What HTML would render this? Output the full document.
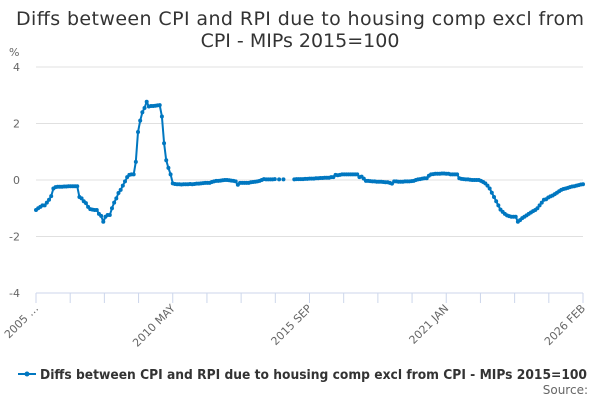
<!DOCTYPE html>
<html><head><meta charset="utf-8"><style>
html,body{margin:0;padding:0;background:#fff;}
svg{display:block;font-family:"DejaVu Sans","Liberation Sans",sans-serif;}
</style></head><body>
<svg id="chart" width="600" height="400">
<text x="300" y="25" text-anchor="middle" font-size="19" textLength="568" fill="#333">Diffs between CPI and RPI due to housing comp excl from</text>
<text x="300" y="47" text-anchor="middle" font-size="19" fill="#333">CPI - MIPs 2015=100</text>
<text x="9" y="56" font-size="11" fill="#666">%</text>
<g id="grid"></g><g id="xaxis"></g><g id="series"></g>
<g>
<line x1="18" y1="374" x2="36" y2="374" stroke="#0077c0" stroke-width="2"/>
<circle cx="27" cy="374" r="2.5" fill="#0077c0"/>
<text x="40" y="379" font-size="13" font-weight="bold" textLength="547" lengthAdjust="spacingAndGlyphs" fill="#333">Diffs between CPI and RPI due to housing comp excl from CPI - MIPs 2015=100</text>
</g>
<text x="588" y="394" text-anchor="end" font-size="12" fill="#666">Source:</text>
</svg>
<script>
const yTicks=[4,2,0,-2,-4];
const xLabels=["2005 …","2010 MAY","2015 SEP","2021 JAN","2026 FEB"];
const values=[
-1.06,-1.0,-0.95,-0.9,-0.9,-0.8,-0.7,-0.57,-0.3,-0.25,-0.24,-0.24,
-0.24,-0.23,-0.23,-0.22,-0.22,-0.22,-0.22,-0.22,-0.6,-0.65,-0.75,-0.82,
-0.95,-1.03,-1.05,-1.06,-1.06,-1.2,-1.27,-1.48,-1.3,-1.24,-1.24,-1.0,
-0.8,-0.65,-0.46,-0.35,-0.2,-0.05,0.1,0.18,0.2,0.2,0.64,1.7,
2.1,2.4,2.55,2.77,2.6,2.62,2.62,2.63,2.64,2.65,2.25,1.3,
0.7,0.43,0.2,-0.12,-0.14,-0.15,-0.15,-0.16,-0.15,-0.15,-0.15,-0.14,
-0.15,-0.14,-0.13,-0.13,-0.12,-0.11,-0.1,-0.1,-0.1,-0.07,-0.05,-0.03,
-0.03,-0.02,-0.01,0,0,-0.01,-0.02,-0.03,-0.05,-0.17,-0.1,-0.1,
-0.1,-0.1,-0.1,-0.08,-0.07,-0.06,-0.05,-0.03,0.0,0.03,0.02,0.02,
0.02,0.02,0.03,null,0.02,null,0.02,null,null,null,null,0.02,
0.03,0.03,0.03,0.03,0.04,0.04,0.05,0.05,0.05,0.06,0.06,0.07,
0.07,0.08,0.08,0.08,0.1,0.1,0.18,0.17,0.18,0.2,0.2,0.2,
0.2,0.2,0.2,0.2,0.2,0.1,0.12,0.05,-0.03,-0.03,-0.04,-0.05,
-0.05,-0.06,-0.06,-0.06,-0.07,-0.08,-0.08,-0.1,-0.13,-0.05,-0.05,-0.06,
-0.06,-0.06,-0.05,-0.05,-0.05,-0.04,-0.03,0,0.02,0.03,0.05,0.06,
0.06,0.15,0.2,0.21,0.22,0.22,0.22,0.23,0.23,0.22,0.22,0.2,
0.2,0.2,0.2,0.06,0.04,0.03,0.02,0.02,0.01,0.0,0.0,0.0,
0,-0.03,-0.07,-0.12,-0.2,-0.3,-0.45,-0.6,-0.75,-0.9,-1.05,-1.13,
-1.2,-1.25,-1.28,-1.3,-1.3,-1.3,-1.48,-1.42,-1.35,-1.3,-1.25,-1.2,
-1.15,-1.1,-1.06,-1.0,-0.9,-0.8,-0.7,-0.68,-0.62,-0.58,-0.55,-0.5,
-0.45,-0.4,-0.35,-0.32,-0.3,-0.28,-0.25,-0.23,-0.22,-0.2,-0.18,-0.16,
-0.15];
const NS="http://www.w3.org/2000/svg";
const X0=36,X1=583,Y0=293,Y1=67;
const xs=i=>X0+(X1-X0)*i/(values.length-1);
const ys=v=>Y0-(v+4)/8*(Y0-Y1);
function mk(t,a,p){const e=document.createElementNS(NS,t);for(const k in a)e.setAttribute(k,a[k]);p.appendChild(e);return e;}
const grid=document.getElementById('grid');
yTicks.forEach(t=>{
 if(t!==-4){const l=mk('line',{x1:X0,x2:X1,y1:ys(t),y2:ys(t),stroke:'#e0e0e0','stroke-width':1},grid);
 
 }
 const tx=mk('text',{x:20,y:ys(t)+4,'text-anchor':'end','font-size':11,fill:'#666'},grid);
 tx.textContent=t;
 
 
});
const xa=document.getElementById('xaxis');
const ax=mk('line',{x1:X0,x2:X1,y1:Y0,y2:Y0,stroke:'#ccd6eb','stroke-width':1},xa);


for(let k=0;k<=16;k++){
 const x=X0+(X1-X0)*k/16;
 const tk=mk('line',{x1:x,x2:x,y1:Y0,y2:Y0+10,stroke:'#ccd6eb'},xa);
 
 
 if(k%4===0){
  const lb=mk('text',{x:x+3,y:Y0+16,'text-anchor':'end','font-size':11,fill:'#666',transform:`rotate(-45 ${x+3} ${Y0+16})`},xa);
  lb.textContent=xLabels[k/4];
  
  
 }
}
const sg=document.getElementById('series');
let d='',pen=false;
values.forEach((v,i)=>{
 if(v===null){pen=false;return;}
 d+=(pen?'L':'M')+xs(i).toFixed(1)+' '+ys(v).toFixed(1);pen=true;
});
const path=mk('path',{d:d,fill:'none',stroke:'#0077c0','stroke-width':2,'stroke-linejoin':'round'},sg);


values.forEach((v,i)=>{
 if(v===null)return;
 const c=mk('circle',{cx:xs(i),cy:ys(v),r:2,fill:'#0077c0'},sg);
 
 
});
</script>
</body></html>
